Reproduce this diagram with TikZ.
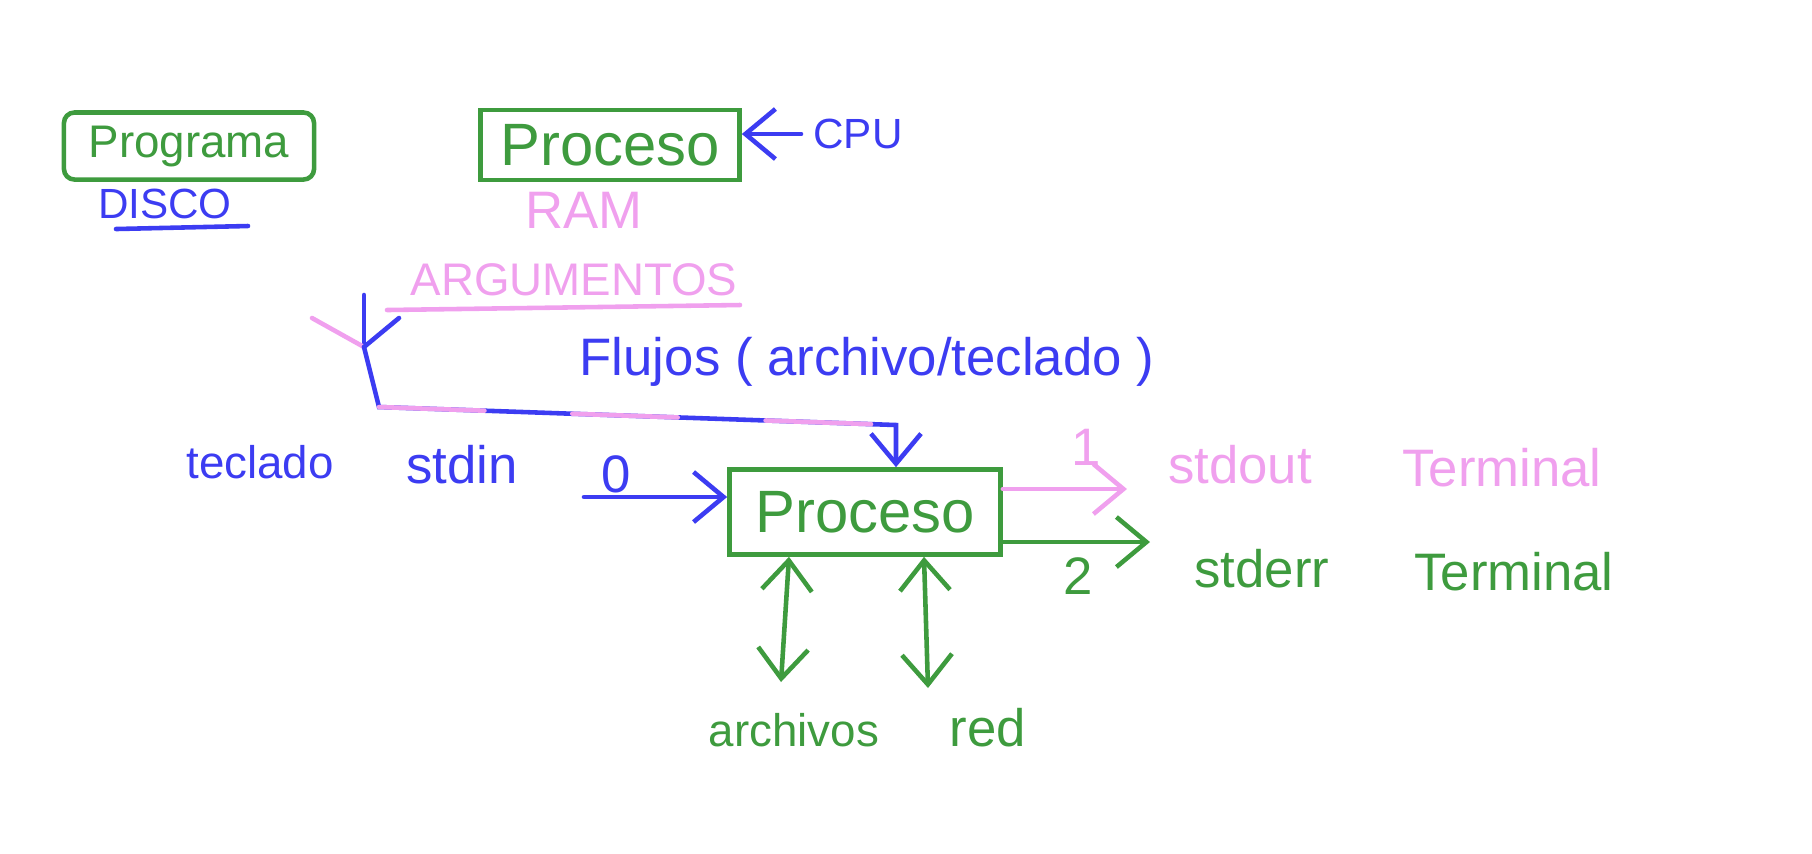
\documentclass[tikz,border=0pt]{standalone}
\usepackage{fontspec}
\setmainfont{Liberation Sans}
\usetikzlibrary{arrows.meta}
\definecolor{verde}{HTML}{3E9B3E}
\definecolor{azul}{HTML}{3C3CF2}
\definecolor{rosa}{HTML}{F0A0EE}
\tikzset{
  caja/.style={draw=verde, line width=1.3pt, text=verde, inner sep=0pt},
  etiq/.style={font=\fontsize{15}{15}\selectfont},
  chica/.style={font=\fontsize{13}{13}\selectfont},
  trazo/.style={line width=1.3pt, line cap=round},
  >={Straight Barb[length=3mm,width=5mm]}
}
\begin{document}
\begin{tikzpicture}[x=0.01cm,y=-0.01cm]
            \useasboundingbox (0,0) rectangle (1812,853);
            
            % fila de arriba
            \node[caja, minimum width=2.5cm, minimum height=0.67cm, rounded corners=3pt, chica] (prog) at (189,146) {Programa};
            \node[caja, minimum width=2.59cm, minimum height=0.7cm, font=\fontsize{17}{17}\selectfont] (procA) at (610,145) {Proceso};
            \node[text=azul, font=\fontsize{12}{12}\selectfont] (disco) at (165,204) {DISCO};
            \node[etiq, text=rosa] (ram) at (584,210) {RAM};
            \node[etiq, text=azul, font=\fontsize{12}{12}\selectfont] (cpu) at (858,134) {CPU};
            \draw[trazo, azul] (116,229) -- (248,226);
            \draw[trazo, azul, ->] (cpu.west) -- (procA.east |- cpu.west);
            
            % argumentos y flujos
            \node[chica, text=rosa] (args) at (574,280) {ARGUMENTOS};
            \draw[trazo, rosa] (387,310) -- (740,305);
            \node[etiq, text=azul] (flujos) at (867,362) {Flujos ( archivo/teclado )};
            
            % proceso central
            \node[caja, minimum width=2.71cm, minimum height=0.85cm, font=\fontsize{17}{17}\selectfont] (procB) at (865,512) {Proceso};
            
            % linea desde argumentos
            \coordinate (v) at (364,347);
            \draw[trazo, azul] (364,295) -- (v);
            \draw[trazo, rosa] (312,318) -- (v);
            \draw[trazo, azul] (399,318) -- (v);
            \coordinate (esq) at (379,407);
            \coordinate (codo) at (896,425);
            \draw[trazo, azul, ->] (v) -- (esq) -- (codo) -- (codo |- procB.north);
            \draw[trazo, rosa, dash pattern=on 30pt off 25pt] (esq) -- (codo) -- (codo |- procB.north);
            
            % entrada
            \node[chica, text=azul] (teclado) at (260,462) {teclado};
            \node[etiq, text=azul] (stdin) at (462,465) {stdin};
            \node[etiq, text=azul] (cero) at (616,474) {0};
            \coordinate (ini) at (584,497);
            \draw[trazo, azul, ->] (ini) -- (ini -| procB.west);
            
            % salidas
            \coordinate (out) at (1127,489);
            \draw[trazo, rosa, ->] (procB.east |- out) -- (out);
            \node[etiq, text=rosa] (uno) at (1086,447) {1};
            \node[etiq, text=rosa] (stdout) at (1240,465) {stdout};
            \node[etiq, text=rosa] (termA) at (1502,468) {Terminal};
            \coordinate (err) at (1150,542);
            \draw[trazo, verde, ->] (procB.east |- err) -- (err);
            \node[etiq, text=verde] (dos) at (1078,576) {2};
            \node[etiq, text=verde] (stderr) at (1262,569) {stderr};
            \node[etiq, text=verde] (termB) at (1514,572) {Terminal};
            
            % archivos y red
            \node[chica, text=verde] (arch) at (794,730) {archivos};
            \node[etiq, text=verde] (red) at (988,728) {red};
            \coordinate (abajoA) at (781,682);
            \coordinate (abajoB) at (928,688);
            \draw[trazo, verde, <->] (procB.south -| 789,0) -- (abajoA);
            \draw[trazo, verde, <->] (procB.south -| 924,0) -- (abajoB);
        \end{tikzpicture}
\end{document}
